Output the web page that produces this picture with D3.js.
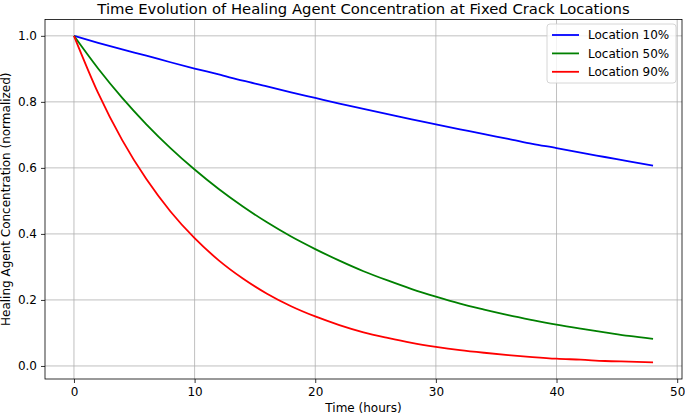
<!DOCTYPE html>
<html>
<head>
<meta charset="utf-8">
<script src="https://cdn.jsdelivr.net/npm/d3@7"></script>
<style>
  html, body { margin: 0; padding: 0; background: #fff; }
  svg { display: block; font-family: "DejaVu Sans", sans-serif; }
</style>
</head>
<body>
<svg id="chart" width="685" height="415"></svg>
<script>
// ---- data ----
const time = [0,2,4,6,8,10,12,14,16,18,20,22,24,26,28,30,32,34,36,38,40,42,44,46,48];
const loc10 = [1.000,0.979,0.959,0.940,0.920,0.901,0.883,0.864,0.847,0.829,0.812,0.795,0.779,0.763,0.747,0.732,0.717,0.702,0.688,0.673,0.660,0.646,0.633,0.620,0.607];
const loc50 = [1.000,0.901,0.812,0.732,0.660,0.595,0.536,0.483,0.435,0.392,0.354,0.319,0.287,0.259,0.233,0.210,0.189,0.171,0.154,0.139,0.125,0.113,0.102,0.091,0.082];
const loc90 = [1.000,0.827,0.684,0.566,0.468,0.387,0.320,0.265,0.219,0.181,0.150,0.124,0.102,0.085,0.070,0.058,0.048,0.040,0.033,0.027,0.022,0.019,0.015,0.013,0.011];
const seriesNames = ["Location 10%", "Location 50%", "Location 90%"];
const seriesColors = ["#0000ff", "#008000", "#ff0000"];
const xTicks = [0,10,20,30,40,50];
const yTicks = [0.0,0.2,0.4,0.6,0.8,1.0];
const titleText = "Time Evolution of Healing Agent Concentration at Fixed Crack Locations";
const xLabel = "Time (hours)";
const yLabel = "Healing Agent Concentration (normalized)";

// ---- layout ----
const W = 685, H = 415;
const m = {left: 45, right: 3, top: 19.5, bottom: 36};
const svg = d3.select("#chart");

const x = d3.scaleLinear().domain([-2.4, 50.4]).range([m.left, W - m.right]);
const y = d3.scaleLinear().domain([-0.0395, 1.0495]).range([H - m.bottom, m.top]);

// grid
const g = svg.append("g");
g.selectAll(".gx").data(xTicks).enter().append("line")
  .attr("x1", d => x(d)).attr("x2", d => x(d))
  .attr("y1", m.top).attr("y2", H - m.bottom)
  .attr("stroke", "#b0b0b0").attr("stroke-width", 0.8);
g.selectAll(".gy").data(yTicks).enter().append("line")
  .attr("y1", d => y(d)).attr("y2", d => y(d))
  .attr("x1", m.left).attr("x2", W - m.right)
  .attr("stroke", "#b0b0b0").attr("stroke-width", 0.8);

// lines
const allSeries = [loc10, loc50, loc90];
const line = d3.line().x((d, i) => x(time[i])).y(d => y(d)).curve(d3.curveMonotoneX);
allSeries.forEach((s, k) => {
  svg.append("path").datum(s)
    .attr("d", line)
    .attr("fill", "none")
    .attr("stroke", seriesColors[k])
    .attr("stroke-width", 1.8);
});

// axes
const xAxis = d3.axisBottom(x).tickValues(xTicks).tickSize(4).tickPadding(4).tickFormat(d3.format("d"));
const yAxis = d3.axisLeft(y).tickValues(yTicks).tickSize(4).tickPadding(4).tickFormat(d3.format(".1f"));
const ax = svg.append("g").attr("transform", `translate(0,${H - m.bottom})`).call(xAxis);
const ay = svg.append("g").attr("transform", `translate(${m.left},0)`).call(yAxis);
[ax, ay].forEach(a => {
  a.select(".domain").remove();
  a.selectAll("text").attr("font-size", 12).attr("fill", "#000").attr("font-family", "DejaVu Sans");
  a.selectAll("line").attr("stroke", "#000").attr("stroke-width", 0.8);
});

// frame
svg.append("rect")
  .attr("x", m.left).attr("y", m.top)
  .attr("width", W - m.left - m.right).attr("height", H - m.top - m.bottom)
  .attr("fill", "none").attr("stroke", "#000").attr("stroke-width", 0.8);

// title and labels
svg.append("text").attr("x", (m.left + W - m.right) / 2).attr("y", 13.5)
  .attr("text-anchor", "middle").attr("font-size", 14.8).text(titleText);
svg.append("text").attr("x", (m.left + W - m.right) / 2).attr("y", 412)
  .attr("text-anchor", "middle").attr("font-size", 12).text(xLabel);
svg.append("text")
  .attr("transform", `translate(10,${(m.top + H - m.bottom) / 2}) rotate(-90)`)
  .attr("text-anchor", "middle").attr("font-size", 12).text(yLabel);

// legend
const lg = svg.append("g");
lg.append("rect").attr("x", 547).attr("y", 24).attr("width", 129).attr("height", 59)
  .attr("rx", 3).attr("fill", "#fff").attr("fill-opacity", 0.8)
  .attr("stroke", "#cccccc").attr("stroke-width", 0.8);
seriesNames.forEach((n, k) => {
  const yy = 35 + k * 18.4;
  lg.append("line").attr("x1", 552).attr("x2", 579).attr("y1", yy).attr("y2", yy)
    .attr("stroke", seriesColors[k]).attr("stroke-width", 1.8);
  lg.append("text").attr("x", 588).attr("y", yy).attr("dy", "0.36em")
    .attr("font-size", 12).text(n);
});
</script>
</body>
</html>
